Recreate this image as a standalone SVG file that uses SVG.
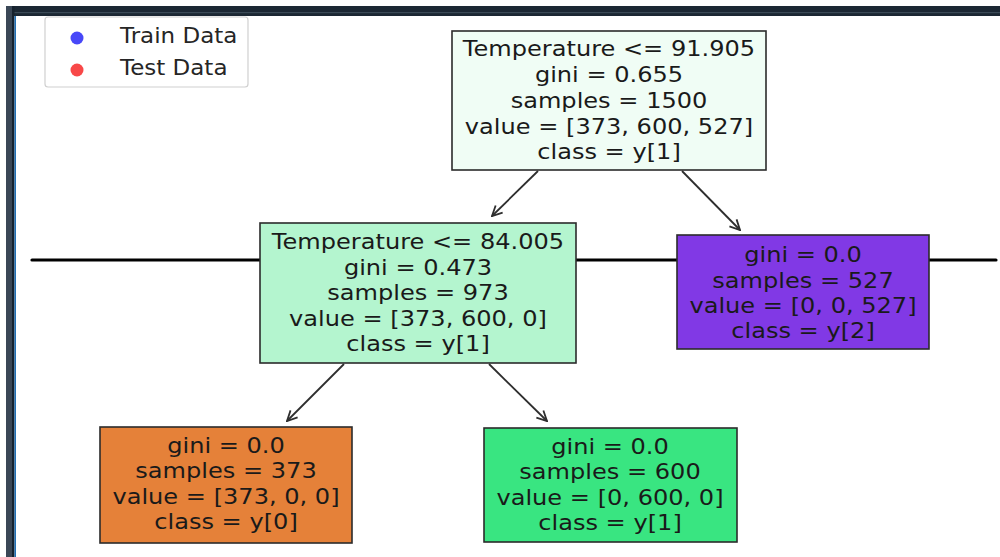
<svg xmlns="http://www.w3.org/2000/svg" width="1000" height="557" viewBox="0 0 1000 557">
<style>
.t{font-family:"DejaVu Sans",sans-serif;font-size:21.5px;fill:#1a1a1a;text-anchor:middle}
.lg{font-family:"DejaVu Sans",sans-serif;font-size:21.5px;fill:#262626}
.box{stroke:#2b2b2b;stroke-width:1.6}
.edge{stroke:#2e2e2e;stroke-width:1.8;fill:none;marker-end:url(#ah)}
</style>
<defs>
<marker id="ah" viewBox="0 0 12 12" refX="11" refY="6" markerWidth="12" markerHeight="12" markerUnits="userSpaceOnUse" orient="auto">
<path d="M1,1 L11,6 L1,11" fill="none" stroke="#2e2e2e" stroke-width="1.8"/>
</marker>
</defs>
<rect x="0" y="0" width="1000" height="557" fill="#ffffff"/>
<g id="frame">
<rect x="6" y="6" width="994" height="10" fill="#1b2733"/>
<rect x="6" y="12" width="994" height="1.2" fill="#3b4a57"/>
<rect x="6" y="6" width="6" height="551" fill="#3a4756"/>
<rect x="12" y="6" width="2.5" height="551" fill="#16222e"/>
<rect x="14.5" y="16" width="1.5" height="541" fill="#1f6fb5"/>
</g>
<g id="legend">
<rect x="45" y="17" width="203" height="70" rx="3" fill="#fff" stroke="#d0d0d0" stroke-width="1.2"/>
<circle cx="77" cy="38" r="6.5" fill="#4848f8"/>
<circle cx="77" cy="70" r="6.5" fill="#f84848"/>
<text class="lg" x="0" y="43" transform="translate(120,0) scale(1.07,1)">Train Data</text>
<text class="lg" x="0" y="75" transform="translate(120,0) scale(1.07,1)">Test Data</text>
</g>
<g id="axis-line">
<line x1="32" y1="260" x2="996" y2="260" stroke="#000" stroke-width="3.2" stroke-linecap="round"/>
</g>
<g id="connectors">
<line class="edge" x1="538" y1="171" x2="492" y2="216"/>
<line class="edge" x1="682" y1="171" x2="740" y2="230"/>
<line class="edge" x1="344" y1="364" x2="287" y2="421"/>
<line class="edge" x1="489" y1="364" x2="547" y2="421"/>
</g>
<g id="node-root">
<rect class="box" x="452" y="31" width="314" height="139" fill="#f0fdf5"/>
<g transform="translate(609,0) scale(1.12,1)">
<text class="t" x="0" y="56">Temperature &lt;= 91.905</text>
<text class="t" x="0" y="82">gini = 0.655</text>
<text class="t" x="0" y="108">samples = 1500</text>
<text class="t" x="0" y="134">value = [373, 600, 527]</text>
<text class="t" x="0" y="159">class = y[1]</text>
</g>
</g>
<g id="node-split2">
<rect class="box" x="260" y="223" width="316" height="140" fill="#b4f5cf"/>
<g transform="translate(418,0) scale(1.12,1)">
<text class="t" x="0" y="249">Temperature &lt;= 84.005</text>
<text class="t" x="0" y="275">gini = 0.473</text>
<text class="t" x="0" y="300">samples = 973</text>
<text class="t" x="0" y="326">value = [373, 600, 0]</text>
<text class="t" x="0" y="351">class = y[1]</text>
</g>
</g>
<g id="node-leaf-y2">
<rect class="box" x="677" y="235" width="252" height="114" fill="#8139e5"/>
<g transform="translate(803,0) scale(1.12,1)">
<text class="t" x="0" y="262">gini = 0.0</text>
<text class="t" x="0" y="288">samples = 527</text>
<text class="t" x="0" y="313">value = [0, 0, 527]</text>
<text class="t" x="0" y="338">class = y[2]</text>
</g>
</g>
<g id="node-leaf-y0">
<rect class="box" x="100" y="427" width="252" height="116" fill="#e58139"/>
<g transform="translate(226,0) scale(1.12,1)">
<text class="t" x="0" y="453">gini = 0.0</text>
<text class="t" x="0" y="478">samples = 373</text>
<text class="t" x="0" y="504">value = [373, 0, 0]</text>
<text class="t" x="0" y="529">class = y[0]</text>
</g>
</g>
<g id="node-leaf-y1">
<rect class="box" x="484" y="428" width="253" height="114" fill="#39e581"/>
<g transform="translate(610,0) scale(1.12,1)">
<text class="t" x="0" y="454">gini = 0.0</text>
<text class="t" x="0" y="479">samples = 600</text>
<text class="t" x="0" y="505">value = [0, 600, 0]</text>
<text class="t" x="0" y="530">class = y[1]</text>
</g>
</g>
</svg>
